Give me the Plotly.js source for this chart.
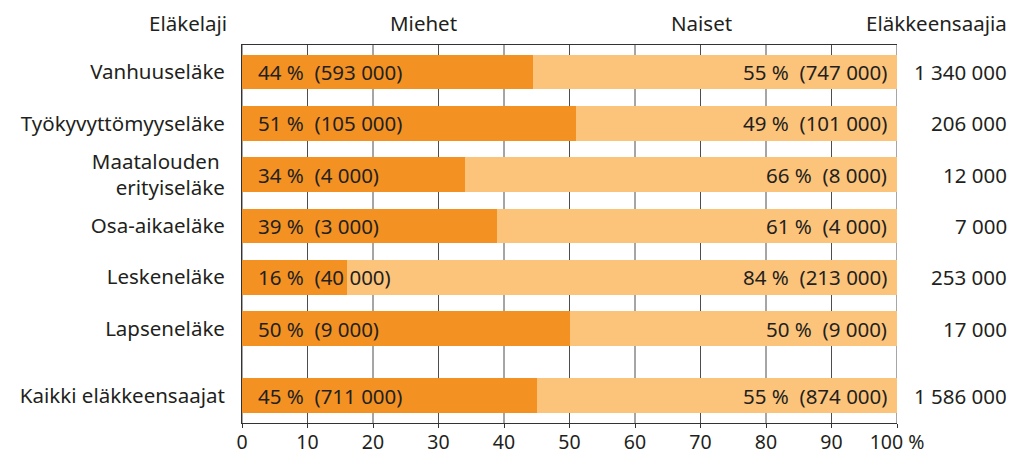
<!DOCTYPE html>
<html>
<head>
<meta charset="utf-8">
<script src="https://cdn.plot.ly/plotly-3.0.1.min.js"></script>
<style>html,body{margin:0;padding:0;background:#fff}#chart{width:1014px;height:458px}</style>
</head>
<body>
<div id="chart"></div>
<script>
// Data
const categories = ["Vanhuuseläke", "Työkyvyttömyyseläke", "Maatalouden\u00a0<br>erityiseläke", "Osa-aikaeläke", "Leskeneläke", "Lapseneläke", "Kaikki eläkkeensaajat"];
const menPct = [44, 51, 34, 39, 16, 50, 45];
const womenPct = [55, 49, 66, 61, 84, 50, 55];
const menCount = ["593 000", "105 000", "4 000", "3 000", "40 000", "9 000", "711 000"];
const womenCount = ["747 000", "101 000", "8 000", "4 000", "213 000", "9 000", "874 000"];
const totals = ["1 340 000", "206 000", "12 000", "7 000", "253 000", "17 000", "1 586 000"];
const yPos = [0, 1, 2, 3, 4, 5, 6.31];
const xTicks = [0, 10, 20, 30, 40, 50, 60, 70, 80, 90, 100];
const xTickText = ["0", "10", "20", "30", "40", "50", "60", "70", "80", "90", "100 %"];

const NB = "\u00a0";
const sp = s => s.replace(/ /g, NB);
const menShare = menPct.map((m, i) => m / (m + womenPct[i]) * 100);
const womenShare = womenPct.map((w, i) => w / (menPct[i] + w) * 100);

const FONT = "Noto Sans, sans-serif";
const TXT = "#231f20";
const FS = 20.5;

const traces = [
  {type: "bar", orientation: "h", y: yPos, x: menShare, width: 0.68,
   marker: {color: "#f39223", line: {width: 0}}, hoverinfo: "skip", name: "Miehet"},
  {type: "bar", orientation: "h", y: yPos, x: womenShare, width: 0.68,
   marker: {color: "#fcc47b", line: {width: 0}}, hoverinfo: "skip", name: "Naiset"}
];

const annotations = [];
yPos.forEach((y, i) => {
  annotations.push({x: 0, y: y, xref: "x", yref: "y", xanchor: "left", xshift: 14, showarrow: false,
    text: sp(menPct[i] + " %") + NB + NB + sp("(" + menCount[i] + ")"), font: {family: FONT, size: FS, color: TXT}});
  annotations.push({x: 100, y: y, xref: "x", yref: "y", xanchor: "right", xshift: -8, showarrow: false,
    text: sp(womenPct[i] + " %") + NB + NB + sp("(" + womenCount[i] + ")"), font: {family: FONT, size: FS, color: TXT}});
  annotations.push({x: 1009, y: y, xref: "paper", yref: "y", xanchor: "right", showarrow: false,
    text: sp(totals[i]), font: {family: FONT, size: FS, color: TXT}});
});
const W = 1014, L = 242, R = 117;
annotations.forEach(a => { if (a.xref === "paper") a.x = (a.x - L) / (W - L - R); });

const headers = [
  {text: "Eläkelaji", px: 229, anchor: "right"},
  {text: "Miehet", px: 423, anchor: "center"},
  {text: "Naiset", px: 701, anchor: "center"},
  {text: "Eläkkeensaajia", px: 1009, anchor: "right"}
];
headers.forEach(h => annotations.push({
  x: (h.px - L) / (W - L - R), xref: "paper", y: 1, yref: "paper", yanchor: "bottom", yshift: 6,
  xanchor: h.anchor, showarrow: false, text: h.text, font: {family: FONT, size: FS, color: TXT}
}));

const shapes = xTicks.map(t => ({type: "line", layer: "below", xref: "x", yref: "paper",
  x0: t, x1: t, y0: 0, y1: 1, line: {color: "#4d4d4d", width: 1}}));

const layout = {
  width: 1014, height: 458,
  margin: {l: L, r: R, t: 45, b: 35, pad: 0},
  barmode: "stack",
  bargap: 0,
  showlegend: false,
  paper_bgcolor: "#fff", plot_bgcolor: "#fff",
  font: {family: FONT, size: FS, color: TXT},
  xaxis: {range: [0, 100], tickvals: xTicks, ticktext: xTickText, showgrid: false,
    zeroline: false, showline: true, linecolor: "#333", linewidth: 1, mirror: true,
    ticks: "outside", ticklen: 4, tickcolor: "#333", ticklabelstandoff: -2,
    tickfont: {family: FONT, size: 19.5, color: TXT}, fixedrange: true},
  yaxis: {range: [6.84, -0.527], tickvals: yPos, ticktext: categories, showgrid: false, zeroline: false,
    showline: true, linecolor: "#333", linewidth: 1, ticks: "", ticklabelstandoff: 12,
    tickfont: {family: FONT, size: FS, color: TXT}, fixedrange: true},
  shapes: shapes,
  annotations: annotations
};

Plotly.newPlot("chart", traces, layout, {displayModeBar: false, staticPlot: true});
</script>
</body>
</html>
